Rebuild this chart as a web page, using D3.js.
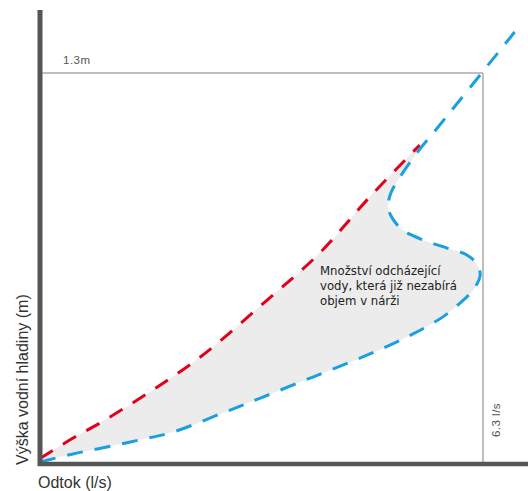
<!DOCTYPE html>
<html>
<head>
<meta charset="utf-8">
<script src="https://d3js.org/d3.v7.min.js"></script>
<style>
  body { margin: 0; background: #fff; }
  text { font-family: "Liberation Sans", Arial, sans-serif; }
</style>
</head>
<body>
<svg id="canvas"></svg>
<script>
var width = 528, height = 491;

// limits of the reference box
var maxFlow = 6.3, maxHeight = 1.3;
var flowLabel = "6.3 l/s", heightLabel = "1.3m";
var xTitle = "Odtok (l/s)", yTitle = "Výška vodní hladiny (m)";
var note = ["Množství odcházející", "vody, která již nezabírá", "objem v nárži"];

// red curve (upper bound)
var redFlow   = [0, 0.47, 0.85, 1.56, 2.28, 3.23, 3.98, 4.69, 5.40];
var redHeight = [0.012, 0.080, 0.130, 0.234, 0.351, 0.541, 0.699, 0.886, 1.059];

// blue curve (with bulge)
var blueFlow   = [0, 0.47, 0.95, 1.42, 1.89, 2.60, 3.17, 3.88, 4.59, 5.22, 5.73, 6.02, 6.16, 6.26, 6.20, 6.07, 5.79, 5.45, 5.16, 5.01, 4.95, 4.99, 5.12, 5.36, 5.65, 6.75];
var blueHeight = [0, 0.027, 0.050, 0.074, 0.100, 0.164, 0.217, 0.284, 0.351, 0.418, 0.485, 0.541, 0.575, 0.625, 0.665, 0.692, 0.715, 0.742, 0.775, 0.815, 0.852, 0.899, 0.953, 1.033, 1.116, 1.437];

var svg = d3.select("#canvas").attr("width", width).attr("height", height);

var x = d3.scaleLinear().domain([0, maxFlow]).range([40, 483]);
var y = d3.scaleLinear().domain([0, maxHeight]).range([462, 73]);

var red = redFlow.map(function(d, i) { return [d, redHeight[i]]; });
var blue = blueFlow.map(function(d, i) { return [d, blueHeight[i]]; });

var line = d3.line()
  .x(function(d) { return x(d[0]); })
  .y(function(d) { return y(d[1]); })
  .curve(d3.curveCatmullRom.alpha(0.5));

// fill between curves
var blueFill = blue.filter(function(d) { return d[1] <= 1.04; }).reverse();
svg.append("path")
  .attr("d", line(red) + line(blueFill).replace(/^M/, "L") + "Z")
  .attr("fill", "#ececec");

// reference box
svg.append("line")
  .attr("x1", x(0)).attr("x2", x(maxFlow))
  .attr("y1", y(maxHeight)).attr("y2", y(maxHeight))
  .attr("stroke", "#aaa").attr("stroke-width", 1.5);
svg.append("line")
  .attr("x1", x(maxFlow)).attr("x2", x(maxFlow))
  .attr("y1", y(maxHeight)).attr("y2", y(0))
  .attr("stroke", "#aaa").attr("stroke-width", 1.5);

// curves
svg.append("path")
  .attr("d", line(red))
  .attr("fill", "none")
  .attr("stroke", "#e2001a")
  .attr("stroke-width", 3)
  .attr("stroke-dasharray", "15,12");
svg.append("path")
  .attr("d", line(blue))
  .attr("fill", "none")
  .attr("stroke", "#1a9fe0")
  .attr("stroke-width", 3)
  .attr("stroke-dasharray", "16,12");

// axes bars
svg.append("line")
  .attr("x1", x(0)).attr("x2", x(0))
  .attr("y1", 10).attr("y2", y(0) + 4)
  .attr("stroke", "#555").attr("stroke-width", 5);
svg.append("line")
  .attr("x1", x(0) - 2).attr("x2", width)
  .attr("y1", y(0) + 2).attr("y2", y(0) + 2)
  .attr("stroke", "#555").attr("stroke-width", 4.5);

// labels
svg.append("text")
  .text(heightLabel)
  .attr("x", 63).attr("y", y(maxHeight) - 9)
  .style("font-size", "11.5px").style("letter-spacing", "0.5px")
  .attr("fill", "#555");
svg.append("text")
  .text(flowLabel)
  .attr("transform", "translate(" + (x(maxFlow) + 17) + ",420) rotate(-90)")
  .attr("text-anchor", "middle")
  .style("font-size", "11.5px").style("letter-spacing", "0.5px")
  .attr("fill", "#555");

svg.append("text")
  .text(yTitle)
  .attr("transform", "translate(28,465) rotate(-90)")
  .style("font-size", "16px")
  .attr("fill", "#333");
svg.append("text")
  .text(xTitle)
  .attr("x", 38).attr("y", 488)
  .style("font-size", "16px")
  .attr("fill", "#333");

var t = svg.append("text")
  .attr("x", 320).attr("y", 275)
  .style("font-family", "'DejaVu Sans Condensed', sans-serif")
  .style("font-size", "13px")
  .attr("fill", "#222");
note.forEach(function(s, i) {
  t.append("tspan").attr("x", 320).attr("y", 275 + 15 * i).text(s);
});
</script>
</body>
</html>
